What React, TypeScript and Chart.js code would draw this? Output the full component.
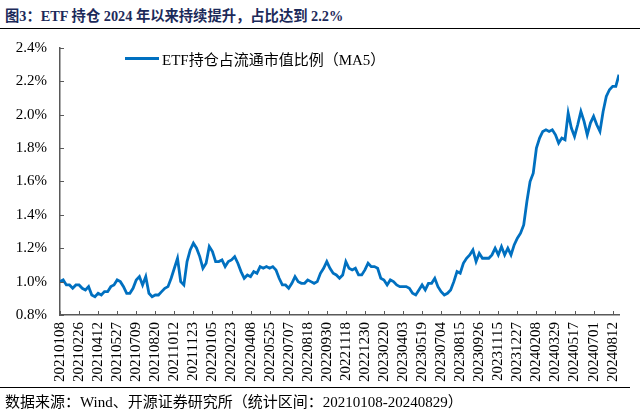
import React, { useEffect, useRef } from "react";
import { Chart, registerables } from "chart.js";

Chart.register(...registerables);

// ETF holdings as % of free-float market cap (MA5), sampled roughly weekly (every 5 trading days)
const seriesName = "ETF持仓占流通市值比例（MA5）";
const etfShare: number[] = [
  1.00, 1.01, 0.98, 0.98, 0.96, 0.98, 0.98, 0.96, 0.95, 0.97,
  0.92, 0.91, 0.93, 0.92, 0.94, 0.94, 0.97, 0.98, 1.01, 1.00,
  0.97, 0.93, 0.93, 0.96, 1.01, 1.03, 0.98, 1.03, 0.93, 0.91,
  0.92, 0.92, 0.94, 0.96, 0.97, 1.02, 1.08, 1.14, 1.00, 0.98,
  1.12, 1.19, 1.23, 1.20, 1.15, 1.08, 1.11, 1.21, 1.18, 1.12,
  1.12, 1.13, 1.09, 1.12, 1.13, 1.15, 1.11, 1.06, 1.02, 1.04,
  1.03, 1.06, 1.05, 1.09, 1.08, 1.09, 1.08, 1.09, 1.07, 1.02,
  0.98, 0.98, 0.96, 0.99, 1.03, 1.00, 0.99, 0.99, 1.01, 1.00,
  0.99, 1.00, 1.05, 1.08, 1.12, 1.08, 1.05, 1.04, 1.02, 1.04,
  1.12, 1.08, 1.07, 1.08, 1.04, 1.04, 1.07, 1.11, 1.09, 1.09,
  1.08, 1.02, 1.01, 0.98, 1.01, 1.00, 0.98, 0.97, 0.97, 0.97,
  0.96, 0.93, 0.92, 0.95, 0.98, 0.95, 0.99, 0.99, 1.02, 0.97,
  0.94, 0.92, 0.93, 0.95, 1.00, 1.06, 1.05, 1.11, 1.14, 1.16,
  1.19, 1.12, 1.17, 1.14, 1.14, 1.14, 1.16, 1.20, 1.16, 1.21,
  1.16, 1.20, 1.16, 1.22, 1.26, 1.29, 1.34, 1.48, 1.60, 1.65,
  1.80, 1.86, 1.90, 1.91, 1.90, 1.91, 1.88, 1.83, 1.86, 1.85,
  2.01, 1.92, 1.87, 1.94, 2.02, 1.96, 1.88, 1.95, 1.99, 1.94,
  1.90, 2.02, 2.11, 2.15, 2.17, 2.17, 2.24,
];

// one tick label every 6 samples (~30 trading days)
const xTickLabels: string[] = [
  "20210108", "20210226", "20210412", "20210527", "20210709", "20210820",
  "20211012", "20211123", "20220105", "20220223", "20220408", "20220525",
  "20220707", "20220818", "20220930", "20221118", "20221230", "20230220",
  "20230403", "20230519", "20230704", "20230815", "20230926", "20231115",
  "20231227", "20240208", "20240329", "20240517", "20240701", "20240812",
];
const samplesPerTick = 6;

const yMin = 0.8;
const yMax = 2.4;
const yStep = 0.2;

const titleText = "图3：ETF 持仓 2024 年以来持续提升，占比达到 2.2%";
const sourceText = "数据来源：Wind、开源证券研究所（统计区间：20210108-20240829）";

const LINE_COLOR = "#0070C0";
const AXIS_COLOR = "#595959";
const SERIF = '"Liberation Serif", "Times New Roman", "Noto Sans CJK SC", serif';

const innerTicks = {
  id: "innerTicks",
  afterDraw(chart: any) {
    const { ctx, chartArea, scales } = chart;
    const x = scales.x;
    const y = scales.y;
    ctx.save();
    ctx.strokeStyle = AXIS_COLOR;
    ctx.lineWidth = 1;
    ctx.beginPath();
    x.ticks.forEach((t: any) => {
      const px = Math.round(x.getPixelForValue(t.value)) + 0.5;
      ctx.moveTo(px, chartArea.bottom);
      ctx.lineTo(px, chartArea.bottom - 4);
    });
    y.ticks.forEach((t: any) => {
      const py = Math.round(y.getPixelForValue(t.value)) + 0.5;
      ctx.moveTo(chartArea.left, py);
      ctx.lineTo(chartArea.left + 4, py);
    });
    ctx.stroke();
    ctx.restore();
  },
};

export default function App() {
  const canvasRef = useRef<HTMLCanvasElement | null>(null);

  useEffect(() => {
    document.body.style.margin = "0";
    const canvas = canvasRef.current;
    if (!canvas) return;
    const points = etfShare.map((v, i) => ({ x: i, y: v }));
    const chart = new Chart(canvas, {
      type: "line",
      data: {
        datasets: [
          {
            label: seriesName,
            data: points,
            borderColor: LINE_COLOR,
            backgroundColor: LINE_COLOR,
            borderWidth: 2.8,
            pointRadius: 0,
            tension: 0,
            fill: false,
          },
        ],
      },
      options: {
        responsive: false,
        animation: false,
        layout: { padding: { top: 48, right: 21, bottom: 0, left: 0 } },
        plugins: {
          legend: { display: false },
          tooltip: { enabled: false },
        },
        scales: {
          x: {
            type: "linear",
            min: 0,
            max: etfShare.length - 1,
            afterFit: (s: any) => {
              s.height = 75;
            },
            grid: { display: true, drawOnChartArea: false, drawTicks: false },
            border: { display: true, color: AXIS_COLOR, width: 1.5 },
            ticks: {
              stepSize: samplesPerTick,
              includeBounds: false,
              autoSkip: false,
              maxRotation: 90,
              minRotation: 90,
              padding: 7,
              color: "#000",
              font: { family: SERIF, size: 15 },
              callback: (v: any) => {
                const idx = Number(v) / samplesPerTick;
                return Number.isInteger(idx) && xTickLabels[idx] ? xTickLabels[idx] : null;
              },
            },
          },
          y: {
            min: yMin,
            max: yMax,
            afterFit: (s: any) => {
              s.width = 60;
            },
            grid: { display: true, drawOnChartArea: false, drawTicks: false },
            border: { display: true, color: AXIS_COLOR, width: 1.5 },
            ticks: {
              stepSize: yStep,
              padding: 13,
              color: "#000",
              font: { family: SERIF, size: 15 },
              callback: (v: any) => Number(v).toFixed(1) + "%",
            },
          },
        },
      },
      plugins: [innerTicks],
    });
    return () => chart.destroy();
  }, []);

  return (
    <div style={{ position: "relative", width: 640, height: 412, background: "#fff", overflow: "hidden" }}>
      <div
        style={{
          position: "absolute",
          left: 5,
          top: 4,
          fontFamily: SERIF,
          fontWeight: "bold",
          fontSize: 14.3,
          color: "#1c2a5a",
          whiteSpace: "nowrap",
        }}
      >
        {titleText}
      </div>
      <div style={{ position: "absolute", left: 0, top: 28, width: 640, height: 0, borderTop: "1.5px solid #000" }} />
      <canvas
        ref={canvasRef}
        width={640}
        height={390}
        style={{ position: "absolute", left: 0, top: 0, width: 640, height: 390 }}
      />
      <div
        style={{
          position: "absolute",
          left: 125,
          top: 48,
          display: "flex",
          alignItems: "center",
          fontFamily: SERIF,
          fontSize: 15,
          color: "#000",
          whiteSpace: "nowrap",
        }}
      >
        <span style={{ display: "inline-block", width: 34, height: 0, borderTop: `3px solid ${LINE_COLOR}`, marginRight: 3 }} />
        <span>{seriesName}</span>
      </div>
      <div style={{ position: "absolute", left: 0, top: 387, width: 630, height: 0, borderTop: "1px solid #000" }} />
      <div
        style={{
          position: "absolute",
          left: 5,
          top: 390,
          fontFamily: SERIF,
          fontSize: 15,
          color: "#000",
          whiteSpace: "nowrap",
        }}
      >
        {sourceText}
      </div>
    </div>
  );
}
